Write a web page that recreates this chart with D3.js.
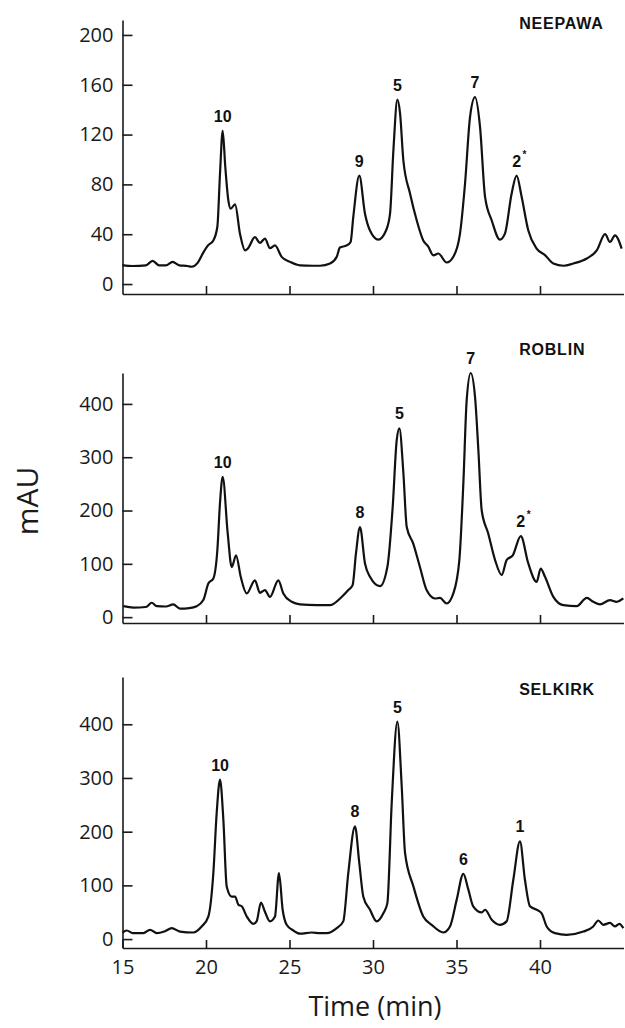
<!DOCTYPE html>
<html>
<head>
<meta charset="utf-8">
<script src="https://cdn.jsdelivr.net/npm/d3@7"></script>
<style>
  body { margin: 0; background: #fff; }
  svg { display: block; }
  .axis text { font-family: "Open Sans", sans-serif; font-weight: 400; font-size: 20px; fill: #1a1a1a; }
  .axis path, .axis line { stroke: #1a1a1a; stroke-width: 1.6; }
  .peak { font-family: "Liberation Sans", Arial, sans-serif; font-weight: bold; font-size: 16px; fill: #111; }
  .title { font-family: "Liberation Sans", Arial, sans-serif; font-weight: bold; font-size: 16px; fill: #111; letter-spacing: 0.8px; }
</style>
</head>
<body>
<svg id="svg" width="625" height="1028"></svg>
<script>
// tick labels
const timeTicks = [15, 20, 25, 30, 35, 40];
const neepawaTicks = [0, 40, 80, 120, 160, 200];
const roblinTicks = [0, 100, 200, 300, 400];
const selkirkTicks = [0, 100, 200, 300, 400];

// chromatograms, [time (min), mAU]
const neepawa = [[15.0,15.2],[15.6,14.5],[16.4,15],[16.8,18.6],[17.2,15],[17.6,15],[18.0,17.8],[18.4,15],[18.9,14.5],[19.14,13.9],[19.5,17],[19.82,24.8],[20.12,31],[20.44,35],[20.68,46],[20.84,89],[21.0,123],[21.15,95],[21.34,67],[21.48,60.5],[21.74,64],[22.04,40],[22.34,27],[22.52,28.8],[22.93,37.6],[23.23,33],[23.53,36.5],[23.83,28.8],[24.13,31],[24.53,21.8],[25.03,17.8],[25.63,15],[26.4,14.7],[26.83,14.7],[27.43,16.5],[27.83,21.9],[28.02,29.3],[28.42,31],[28.66,33.8],[28.82,54],[29.18,87],[29.52,56.5],[29.82,43],[30.32,35.7],[30.78,43],[31.02,56.5],[31.22,107],[31.46,148],[31.62,137],[31.82,99],[32.22,72.5],[32.62,51],[33.01,35],[33.31,30],[33.61,23],[33.91,24.5],[34.41,17.3],[34.81,21.9],[35.21,40.5],[35.51,80.5],[35.81,134],[36.11,150],[36.41,126],[36.71,70],[37.11,51],[37.6,35.7],[37.9,40.5],[38.3,72.5],[38.6,87],[38.9,70],[39.3,43],[39.8,28.5],[40.3,23.2],[40.8,16.5],[41.4,14.7],[42.0,16.5],[42.8,20.5],[43.4,27],[43.9,40],[44.19,33.8],[44.49,39],[44.89,28.5]];

const roblin = [[15.05,20.6],[15.65,18],[16.4,19],[16.75,27],[17.05,20.6],[17.6,20],[18.04,24],[18.44,16],[19.0,17],[19.44,20.6],[19.84,32],[20.14,63],[20.44,72.6],[20.68,126],[20.84,215],[21.0,263],[21.3,157],[21.54,94],[21.8,116],[22.08,75.6],[22.44,44.4],[22.93,69],[23.23,45.6],[23.53,50.7],[23.83,38],[24.33,69],[24.63,44.4],[25.13,28.8],[25.63,24],[26.63,22.5],[27.43,22.5],[28.03,35],[28.52,50.7],[28.78,60],[28.98,119.5],[29.22,169],[29.52,100.7],[29.82,75.6],[30.42,58],[30.86,94],[31.18,207],[31.42,332],[31.58,354],[31.82,270],[32.02,169],[32.41,138],[32.81,94],[33.21,50.7],[33.71,35],[34.01,36],[34.41,25.6],[34.81,44.4],[35.17,107],[35.41,251],[35.61,407],[35.85,458],[36.11,413],[36.31,313],[36.51,200],[36.9,157],[37.31,107],[37.71,79],[38.0,107],[38.37,116],[38.85,152],[39.3,100.7],[39.8,66],[40.04,91],[40.3,75.6],[40.8,38],[41.4,22.5],[42.2,20.6],[42.8,36],[43.19,28.8],[43.59,24],[44.19,32],[44.59,28.8],[44.99,35]];

const selkirk = [[15.0,12],[15.25,16],[15.65,11],[16.25,11],[16.65,17.3],[17.05,11],[17.5,14],[17.95,20.5],[18.44,14],[19.24,12.3],[19.74,23.5],[20.14,42],[20.44,123],[20.64,235],[20.84,297],[21.04,222],[21.24,98],[21.54,79],[21.74,79],[21.94,64],[22.14,61],[22.44,42],[22.83,28.5],[23.03,33],[23.29,68],[23.53,51],[23.83,33],[24.13,42],[24.37,123],[24.59,54.6],[24.83,26.6],[25.23,16],[25.63,10],[26.33,12.3],[26.83,11],[27.23,11],[27.83,20.5],[28.22,33],[28.52,123],[28.92,210],[29.18,141.5],[29.42,79],[29.82,54.6],[30.22,33],[30.62,48],[30.86,67],[31.12,253],[31.46,405],[31.72,284],[31.92,160],[32.42,98],[33.01,42],[33.51,26.6],[34.21,12.3],[34.61,23.5],[35.01,73],[35.41,121.6],[35.71,92],[36.0,61],[36.51,49.6],[36.71,54.6],[37.11,36],[37.6,26.6],[38.0,33],[38.4,110],[38.8,182],[39.1,110],[39.4,61],[39.8,54.6],[40.1,48],[40.4,23.5],[40.9,11],[41.6,8],[42.6,14],[43.19,23.5],[43.49,34.6],[43.79,26.6],[44.19,30],[44.49,23.5],[44.75,28.5],[44.99,20.5]];

// peak numbers
const neepawaPeaks = [
  {label: "10", t: 21.0, v: 123}, {label: "9", t: 29.18, v: 87}, {label: "5", t: 31.46, v: 148},
  {label: "7", t: 36.11, v: 150}, {label: "2", t: 38.6, v: 87, star: true}];
const roblinPeaks = [
  {label: "10", t: 21.0, v: 263}, {label: "8", t: 29.22, v: 169}, {label: "5", t: 31.58, v: 354},
  {label: "7", t: 35.85, v: 458}, {label: "2", t: 38.85, v: 152, star: true}];
const selkirkPeaks = [
  {label: "10", t: 20.84, v: 297}, {label: "8", t: 28.92, v: 210}, {label: "5", t: 31.46, v: 405},
  {label: "6", t: 35.41, v: 121.6}, {label: "1", t: 38.8, v: 182}];

const panels = [
  {name: "NEEPAWA", data: neepawa, peaks: neepawaPeaks, ticks: neepawaTicks, domain: [-8, 212], top: 20, bottom: 294, titleY: 29},
  {name: "ROBLIN", data: roblin, peaks: roblinPeaks, ticks: roblinTicks, domain: [-11, 458], top: 373, bottom: 623, titleY: 355},
  {name: "SELKIRK", data: selkirk, peaks: selkirkPeaks, ticks: selkirkTicks, domain: [-16.6, 488], top: 677, bottom: 948, titleY: 695, timeLabels: true}
];

let svg = d3.select("svg");
let x = d3.scaleLinear().domain([15, 45]).range([122.5, 623.5]);

panels.forEach(p => {
  let y = d3.scaleLinear().domain(p.domain).range([p.bottom, p.top]);
  let g = svg.append("g");

  let xAxis = d3.axisBottom(x)
    .tickValues(p.timeLabels ? timeTicks : timeTicks.slice(1))
    .tickSizeInner(-8).tickSizeOuter(0).tickPadding(12);
  if (!p.timeLabels) xAxis.tickFormat("");
  g.append("g").attr("class", "axis")
    .attr("transform", "translate(0," + p.bottom + ")")
    .call(xAxis);

  g.append("g").attr("class", "axis")
    .attr("transform", "translate(" + x(15) + ",0)")
    .call(d3.axisLeft(y).tickValues(p.ticks).tickSizeInner(-10).tickSizeOuter(0).tickPadding(9));

  let line = d3.line()
    .x(d => x(d[0]))
    .y(d => y(d[1]))
    .curve(d3.curveMonotoneX);

  g.append("path")
   .datum(p.data)
   .attr("fill", "none")
   .attr("stroke", "#111")
   .attr("stroke-width", 2.2)
   .attr("stroke-linejoin", "round")
   .attr("d", line);

  g.selectAll(".peak")
   .data(p.peaks)
   .enter().append("text")
     .attr("class", "peak")
     .attr("text-anchor", "middle")
     .attr("x", d => x(d.t))
     .attr("y", d => y(d.v) - 9)
     .text(d => d.label);

  g.selectAll(".star")
   .data(p.peaks.filter(d => d.star))
   .enter().append("text")
     .attr("class", "peak")
     .style("font-size", "10px")
     .attr("x", d => x(d.t) + 6)
     .attr("y", d => y(d.v) - 18)
     .text("*");

  g.append("text")
   .attr("class", "title")
   .attr("x", x(38.75))
   .attr("y", p.titleY)
   .text(p.name);
});

svg.append("text")
  .attr("transform", "translate(38,501) rotate(-90)")
  .attr("text-anchor", "middle")
  .style("font-family", "'Open Sans', sans-serif")
  .style("font-size", "30px")
  .style("fill", "#1a1a1a")
  .text("mAU");

svg.append("text")
  .attr("x", 375)
  .attr("y", 1016)
  .attr("text-anchor", "middle")
  .style("font-family", "'Open Sans', sans-serif")
  .style("font-size", "27px")
  .style("fill", "#1a1a1a")
  .text("Time (min)");
</script>
</body>
</html>
